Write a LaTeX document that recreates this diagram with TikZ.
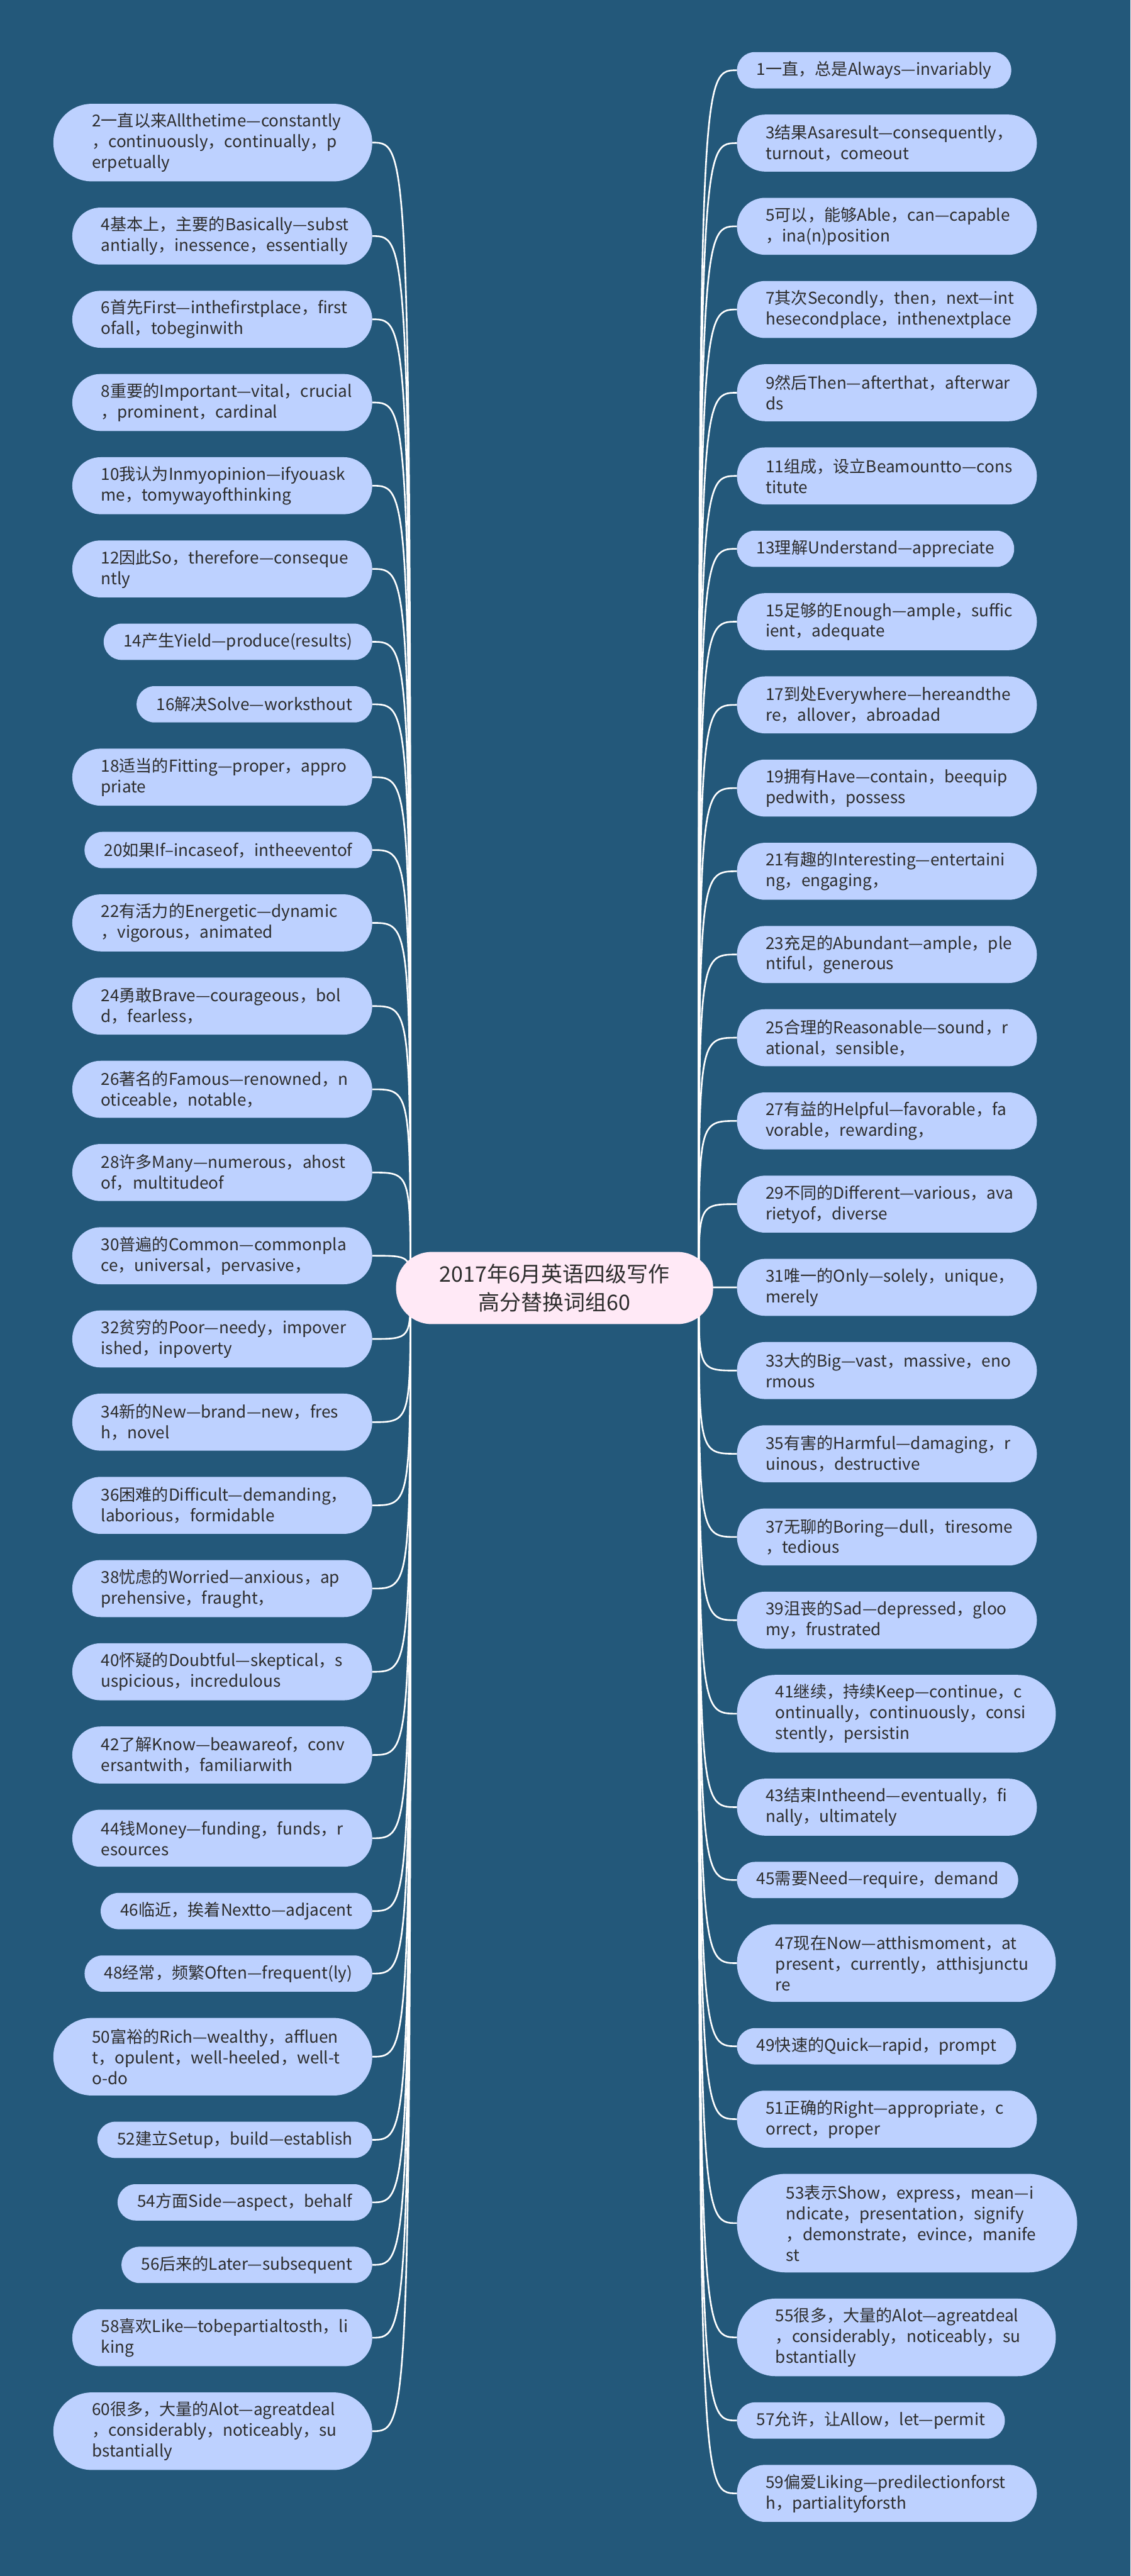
\documentclass[tikz,border=0pt]{standalone}
\usepackage{fontspec}
\setmainfont{Noto Sans CJK SC}
\usetikzlibrary{positioning,backgrounds}
\definecolor{bgblue}{RGB}{35,88,122}
\definecolor{leaffill}{RGB}{189,209,255}
\definecolor{rootfill}{RGB}{255,233,246}
\definecolor{inkgray}{RGB}{45,45,45}
% keep the hand-made line breaks only
\XeTeXdashbreakstate=0
\exhyphenpenalty=10000
\hyphenpenalty=10000

\begin{document}
\begin{tikzpicture}[
x=1pt, y=1pt,
node distance=15.95pt,
pill/.style={fill=leaffill, text=inkgray, align=left, inner ysep=2pt, outer sep=0pt, font=\fontsize{10}{12.6}\selectfont},
pillone/.style={pill, minimum height=22.1pt, rounded corners=10.9pt, inner xsep=12pt},
pilltwo/.style={pill, minimum height=34.7pt, rounded corners=17.2pt, inner xsep=17.5pt, text width=147.5pt},
pillthree/.style={pill, minimum height=47.2pt, rounded corners=23.4pt, inner xsep=23.5pt, text width=147pt},
pillfour/.style={pill, minimum height=60pt, rounded corners=29.8pt, inner xsep=30pt, text width=147pt},
rootbox/.style={fill=rootfill, text=inkgray, align=center, minimum width=193pt, minimum height=44pt, rounded corners=21.8pt, font=\fontsize{13}{17.5}\selectfont},
link/.style={draw=white, line width=1pt}
]
\useasboundingbox (0,0) rectangle (688,-1568);

\node[rootbox] (root) at (337.5,-784) {2017年6月英语四级写作\\高分替换词组60};

% left column
\node[pillthree, anchor=north east] (n2) at (226.5,-63.2) {2一直以来Allthetime—constantly\\，continuously，continually，p\\erpetually};
\node[pilltwo, below=of n2.south east, anchor=north east] (n4) {4基本上，主要的Basically—subst\\antially，inessence，essentially};
\node[pilltwo, below=of n4.south east, anchor=north east] (n6) {6首先First—inthefirstplace，first\\ofall，tobeginwith};
\node[pilltwo, below=of n6.south east, anchor=north east] (n8) {8重要的Important—vital，crucial\\，prominent，cardinal};
\node[pilltwo, below=of n8.south east, anchor=north east] (n10) {10我认为Inmyopinion—ifyouask\\me，tomywayofthinking};
\node[pilltwo, below=of n10.south east, anchor=north east] (n12) {12因此So，therefore—conseque\\ntly};
\node[pillone, below=of n12.south east, anchor=north east] (n14) {14产生Yield—produce(results)};
\node[pillone, below=of n14.south east, anchor=north east] (n16) {16解决Solve—worksthout};
\node[pilltwo, below=of n16.south east, anchor=north east] (n18) {18适当的Fitting—proper，appro\\priate};
\node[pillone, below=of n18.south east, anchor=north east] (n20) {20如果If–incaseof，intheeventof};
\node[pilltwo, below=of n20.south east, anchor=north east] (n22) {22有活力的Energetic—dynamic\\，vigorous，animated};
\node[pilltwo, below=of n22.south east, anchor=north east] (n24) {24勇敢Brave—courageous，bol\\d，fearless，};
\node[pilltwo, below=of n24.south east, anchor=north east] (n26) {26著名的Famous—renowned，n\\oticeable，notable，};
\node[pilltwo, below=of n26.south east, anchor=north east] (n28) {28许多Many—numerous，ahost\\of，multitudeof};
\node[pilltwo, below=of n28.south east, anchor=north east] (n30) {30普遍的Common—commonpla\\ce，universal，pervasive，};
\node[pilltwo, below=of n30.south east, anchor=north east] (n32) {32贫穷的Poor—needy，impover\\ished，inpoverty};
\node[pilltwo, below=of n32.south east, anchor=north east] (n34) {34新的New—brand—new，fres\\h，novel};
\node[pilltwo, below=of n34.south east, anchor=north east] (n36) {36困难的Difficult—demanding，\\laborious，formidable};
\node[pilltwo, below=of n36.south east, anchor=north east] (n38) {38忧虑的Worried—anxious，ap\\prehensive，fraught，};
\node[pilltwo, below=of n38.south east, anchor=north east] (n40) {40怀疑的Doubtful—skeptical，s\\uspicious，incredulous};
\node[pilltwo, below=of n40.south east, anchor=north east] (n42) {42了解Know—beawareof，conv\\ersantwith，familiarwith};
\node[pilltwo, below=of n42.south east, anchor=north east] (n44) {44钱Money—funding，funds，r\\esources};
\node[pillone, below=of n44.south east, anchor=north east] (n46) {46临近，挨着Nextto—adjacent};
\node[pillone, below=of n46.south east, anchor=north east] (n48) {48经常，频繁Often—frequent(ly)};
\node[pillthree, below=of n48.south east, anchor=north east] (n50) {50富裕的Rich—wealthy，affluen\\t，opulent，well-heeled，well-t\\o-do};
\node[pillone, below=of n50.south east, anchor=north east] (n52) {52建立Setup，build—establish};
\node[pillone, below=of n52.south east, anchor=north east] (n54) {54方面Side—aspect，behalf};
\node[pillone, below=of n54.south east, anchor=north east] (n56) {56后来的Later—subsequent};
\node[pilltwo, below=of n56.south east, anchor=north east] (n58) {58喜欢Like—tobepartialtosth，li\\king};
\node[pillthree, below=of n58.south east, anchor=north east] (n60) {60很多，大量的Alot—agreatdeal\\，considerably，noticeably，su\\bstantially};

% right column
\node[pillone, anchor=north west] (n1) at (448.5,-31.7) {1一直，总是Always—invariably};
\node[pilltwo, below=of n1.south west, anchor=north west] (n3) {3结果Asaresult—consequently，\\turnout，comeout};
\node[pilltwo, below=of n3.south west, anchor=north west] (n5) {5可以，能够Able，can—capable\\，ina(n)position};
\node[pilltwo, below=of n5.south west, anchor=north west] (n7) {7其次Secondly，then，next—int\\hesecondplace，inthenextplace};
\node[pilltwo, below=of n7.south west, anchor=north west] (n9) {9然后Then—afterthat，afterwar\\ds};
\node[pilltwo, below=of n9.south west, anchor=north west] (n11) {11组成，设立Beamountto—cons\\titute};
\node[pillone, below=of n11.south west, anchor=north west] (n13) {13理解Understand—appreciate};
\node[pilltwo, below=of n13.south west, anchor=north west] (n15) {15足够的Enough—ample，suffic\\ient，adequate};
\node[pilltwo, below=of n15.south west, anchor=north west] (n17) {17到处Everywhere—hereandthe\\re，allover，abroadad};
\node[pilltwo, below=of n17.south west, anchor=north west] (n19) {19拥有Have—contain，beequip\\pedwith，possess};
\node[pilltwo, below=of n19.south west, anchor=north west] (n21) {21有趣的Interesting—entertaini\\ng，engaging，};
\node[pilltwo, below=of n21.south west, anchor=north west] (n23) {23充足的Abundant—ample，ple\\ntiful，generous};
\node[pilltwo, below=of n23.south west, anchor=north west] (n25) {25合理的Reasonable—sound，r\\ational，sensible，};
\node[pilltwo, below=of n25.south west, anchor=north west] (n27) {27有益的Helpful—favorable，fa\\vorable，rewarding，};
\node[pilltwo, below=of n27.south west, anchor=north west] (n29) {29不同的Different—various，ava\\rietyof，diverse};
\node[pilltwo, below=of n29.south west, anchor=north west] (n31) {31唯一的Only—solely，unique，\\merely};
\node[pilltwo, below=of n31.south west, anchor=north west] (n33) {33大的Big—vast，massive，eno\\rmous};
\node[pilltwo, below=of n33.south west, anchor=north west] (n35) {35有害的Harmful—damaging，r\\uinous，destructive};
\node[pilltwo, below=of n35.south west, anchor=north west] (n37) {37无聊的Boring—dull，tiresome\\，tedious};
\node[pilltwo, below=of n37.south west, anchor=north west] (n39) {39沮丧的Sad—depressed，gloo\\my，frustrated};
\node[pillthree, below=of n39.south west, anchor=north west] (n41) {41继续，持续Keep—continue，c\\ontinually，continuously，consi\\stently，persistin};
\node[pilltwo, below=of n41.south west, anchor=north west] (n43) {43结束Intheend—eventually，fi\\nally，ultimately};
\node[pillone, below=of n43.south west, anchor=north west] (n45) {45需要Need—require，demand};
\node[pillthree, below=of n45.south west, anchor=north west] (n47) {47现在Now—atthismoment，at\\present，currently，atthisjunctu\\re};
\node[pillone, below=of n47.south west, anchor=north west] (n49) {49快速的Quick—rapid，prompt};
\node[pilltwo, below=of n49.south west, anchor=north west] (n51) {51正确的Right—appropriate，c\\orrect，proper};
\node[pillfour, below=of n51.south west, anchor=north west] (n53) {53表示Show，express，mean—i\\ndicate，presentation，signify\\，demonstrate，evince，manife\\st};
\node[pillthree, below=of n53.south west, anchor=north west] (n55) {55很多，大量的Alot—agreatdeal\\，considerably，noticeably，su\\bstantially};
\node[pillone, below=of n55.south west, anchor=north west] (n57) {57允许，让Allow，let—permit};
\node[pilltwo, below=of n57.south west, anchor=north west] (n59) {59偏爱Liking—predilectionforst\\h，partialityforsth};

\coordinate (hubL) at ([xshift=9pt]root.west);
\coordinate (hubR) at ([xshift=-9pt]root.east);

\begin{pgfonlayer}{background}
\fill[bgblue] (0,0) rectangle (688,-1568);
\foreach \k in {2,4,...,60}
  \draw[link] (hubL) .. controls (hubL |- n\k.east) .. (n\k.east);
\foreach \k in {1,3,...,59}
  \draw[link] (hubR) .. controls (hubR |- n\k.west) .. (n\k.west);
\end{pgfonlayer}

\end{tikzpicture}
\end{document}
